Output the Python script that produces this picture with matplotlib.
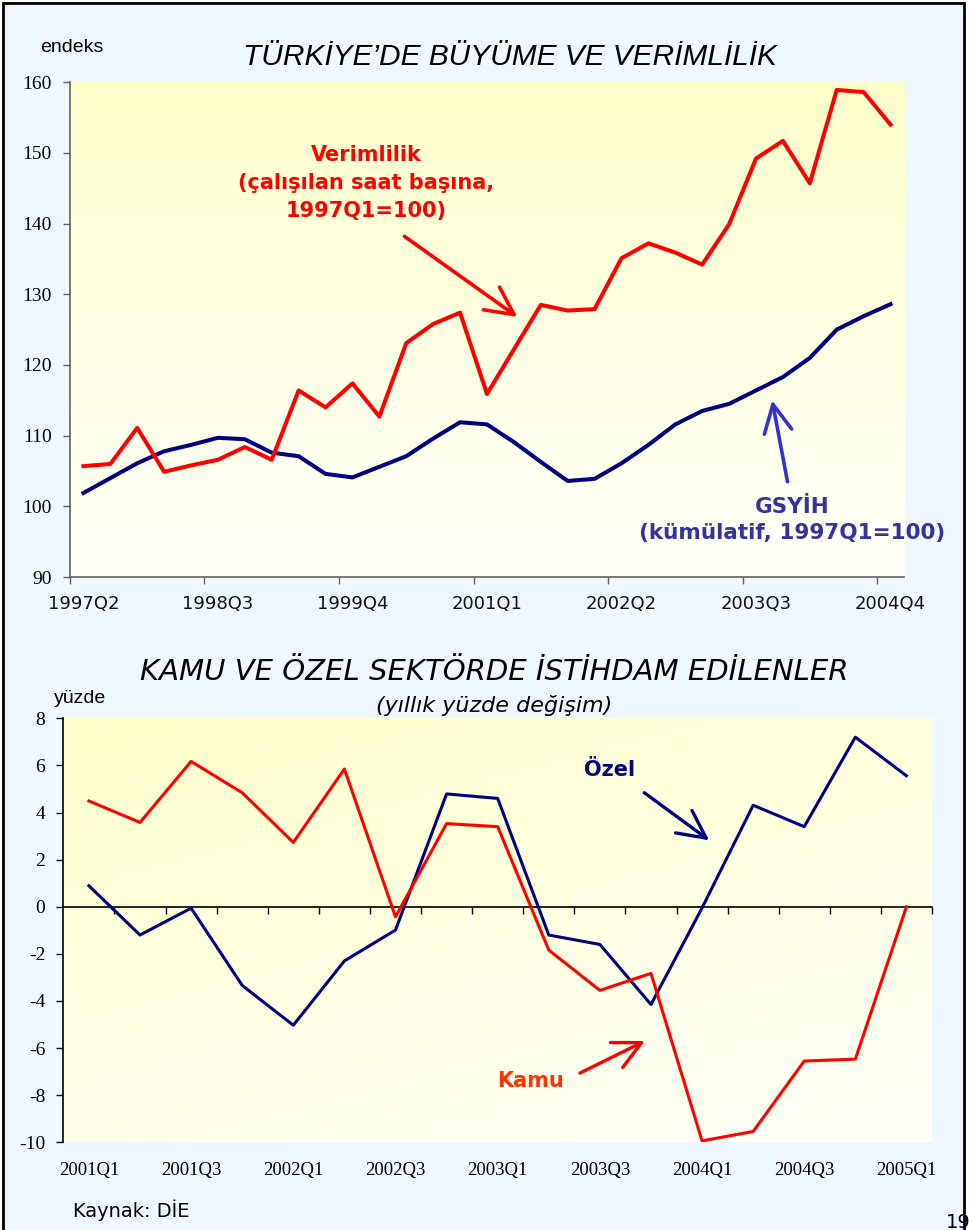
import numpy as np
import matplotlib.pyplot as plt
from matplotlib.patches import Rectangle

plt.rcParams['axes.unicode_minus'] = False

# --- ust grafik: 1997Q2 - 2004Q4 (ceyreklik, 1997Q1=100)
ceyrek_ust = [f'{y}Q{q}' for y in range(1997, 2005) for q in range(1, 5)][1:]
etiket_ust = ['1997Q2', '1998Q3', '1999Q4', '2001Q1', '2002Q2', '2003Q3', '2004Q4']
verimlilik = [105.7, 106.0, 111.1, 104.9, 105.8, 106.6, 108.4, 106.6, 116.4, 114.0,
              117.4, 112.7, 123.1, 125.8, 127.4, 115.9, 122.2, 128.5, 127.7, 127.9,
              135.1, 137.2, 135.9, 134.2, 139.9, 149.2, 151.7, 145.7, 158.9, 158.6, 154.0]
gsyih = [101.9, 104.0, 106.1, 107.8, 108.7, 109.7, 109.5, 107.6, 107.1, 104.6,
         104.1, 105.6, 107.1, 109.6, 111.9, 111.6, 109.1, 106.3, 103.6, 103.9,
         106.1, 108.7, 111.6, 113.5, 114.5, 116.4, 118.3, 121.0, 125.0, 126.9, 128.6]

# --- alt grafik: 2001Q1 - 2005Q1 (yillik yuzde degisim)
ceyrek_alt = [f'{y}Q{q}' for y in range(2001, 2006) for q in range(1, 5)][:17]
etiket_alt = ['2001Q1', '2001Q3', '2002Q1', '2002Q3', '2003Q1', '2003Q3', '2004Q1', '2004Q3', '2005Q1']
kamu = [4.49, 3.58, 6.17, 4.84, 2.73, 5.85, -0.43, 3.53, 3.40, -1.84, -3.55, -2.83,
        -9.94, -9.54, -6.55, -6.47, 0.0]
ozel = [0.89, -1.20, -0.06, -3.34, -5.03, -2.30, -0.99, 4.79, 4.60, -1.20, -1.60, -4.15,
        -0.05, 4.31, 3.40, 7.20, 5.56]

SERIF = 'Liberation Serif'
SANS = 'DejaVu Sans'
OK = '->, head_length=1.0, head_width=0.5'


def zemin(ax, diag=0.0):
    yy, xx = np.mgrid[0:1:200j, 0:1:200j]
    f = np.clip((1 - yy) * (1 - diag) + xx * diag, 0, 1)
    c1 = np.array([1.0, 1.0, 0.80])
    c2 = np.array([1.0, 1.0, 0.975])
    img = c1 + (c2 - c1) * f[..., None]
    ax.imshow(img, extent=(0, 1, 0, 1), transform=ax.transAxes, origin='lower',
              aspect='auto', zorder=0, interpolation='bilinear')


fig = plt.figure(figsize=(9.69, 12.30), dpi=100, facecolor='white')
fig.patches.append(Rectangle((3 / 969, -0.01), 961 / 969, 1.0076, transform=fig.transFigure,
                             facecolor='#F0F8FF', edgecolor='black', lw=2, zorder=-1))

# ================= UST GRAFIK =================
ax1 = fig.add_axes([0.0722, 0.5308, 0.8607, 0.4024])
ax1.set_facecolor('none')
zemin(ax1)
x1 = np.arange(len(ceyrek_ust))
ax1.plot(x1, gsyih, color='#000080', lw=2.9, zorder=3)
ax1.plot(x1, verimlilik, color='#FF0000', lw=2.9, zorder=4)
ax1.set_xlim(-0.5, len(ceyrek_ust) - 0.5)
ax1.set_ylim(90, 160)
ax1.set_yticks(range(90, 161, 10))
ax1.set_xticks([ceyrek_ust.index(e) for e in etiket_ust], labels=etiket_ust)
ax1.set_xticks(np.arange(-0.5, len(ceyrek_ust), 5), minor=True)
ax1.tick_params(axis='x', which='major', length=0, pad=13, labelsize=13, labelcolor='#111111')
ax1.tick_params(axis='x', which='minor', length=5, width=1, color='#606060')
ax1.tick_params(axis='y', length=5, width=1, color='#606060', pad=8, labelsize=14,
                labelfontfamily=SERIF)
for s in ['top', 'right']:
    ax1.spines[s].set_visible(False)
for s in ['left', 'bottom']:
    ax1.spines[s].set_color('#606060')
    ax1.spines[s].set_linewidth(1.2)

ax1.text(10.51, 145.7, 'Verimlilik\n(çalışılan saat başına,\n1997Q1=100)', color='#FF0000',
         fontsize=15, fontweight='bold', ha='center', va='center', linespacing=1.5, zorder=5)
ax1.annotate('', xy=(16.13, 126.8), xytext=(11.93, 138.2),
             arrowprops=dict(arrowstyle=OK, mutation_scale=20,
                             color='#FF0000', lw=2.6, shrinkA=0, shrinkB=0), zorder=5)
ax1.text(26.35, 98.05, 'GSYİH\n(kümülatif, 1997Q1=100)', color='#333399',
         fontsize=15.5, fontweight='bold', ha='center', va='center', linespacing=1.4, zorder=5)
ax1.annotate('', xy=(25.6, 115.0), xytext=(26.17, 103.5),
             arrowprops=dict(arrowstyle=OK, mutation_scale=20,
                             color='#3333CC', lw=2.6, shrinkA=0, shrinkB=0), zorder=5)

fig.text(0.526, 1 - 57 / 1230, 'TÜRKİYE’DE BÜYÜME VE VERİMLİLİK', fontsize=21.5, style='italic',
         family='Liberation Sans', ha='center', va='center')
fig.text(40 / 969, 1 - 47 / 1230, 'endeks', fontsize=14, family='Liberation Sans', va='center')

# ================= ALT GRAFIK =================
ax2 = fig.add_axes([0.0654, 0.0713, 0.8964, 0.3447])
ax2.set_facecolor('none')
zemin(ax2, diag=0.35)
x2 = np.arange(len(ceyrek_alt))
ax2.plot(x2, ozel, color='#000080', lw=2.2, zorder=3)
ax2.plot(x2, kamu, color='#FF0000', lw=2.2, zorder=4)
ax2.set_xlim(-0.5, len(ceyrek_alt) - 0.5)
ax2.set_ylim(-10, 8)
ax2.set_yticks(range(-10, 9, 2))
ax2.spines['bottom'].set_position(('data', 0))
ax2.spines['bottom'].set_linewidth(1.2)
ax2.spines['left'].set_linewidth(1.2)
for s in ['top', 'right']:
    ax2.spines[s].set_visible(False)
ax2.set_xticks(np.arange(0.5, len(ceyrek_alt), 1))
ax2.tick_params(axis='x', labelbottom=False, length=5, width=1, direction='out')
ax2.tick_params(axis='y', length=5, width=1, pad=8, labelsize=14, labelfontfamily=SERIF)
sec = ax2.secondary_xaxis(0)
sec.set_xticks([ceyrek_alt.index(e) for e in etiket_alt], labels=etiket_alt)
sec.tick_params(length=0, pad=14, labelsize=13.5, labelfontfamily=SERIF)
sec.spines['bottom'].set_visible(False)

ax2.text(10.19, 5.80, 'Özel', color='#000080', fontsize=15, fontweight='bold',
         ha='center', va='center', zorder=5)
ax2.annotate('', xy=(12.14, 2.82), xytext=(10.87, 4.84),
             arrowprops=dict(arrowstyle=OK, mutation_scale=20,
                             color='#000080', lw=2.4, shrinkA=0, shrinkB=0), zorder=5)
ax2.text(8.65, -7.38, 'Kamu', color='#FF3300', fontsize=15, fontweight='bold',
         ha='center', va='center', zorder=5)
ax2.annotate('', xy=(10.88, -5.70), xytext=(9.61, -7.06),
             arrowprops=dict(arrowstyle=OK, mutation_scale=20,
                             color='#FF0000', lw=2.4, shrinkA=0, shrinkB=0), zorder=5)

fig.text(0.51, 1 - 672 / 1230, 'KAMU VE ÖZEL SEKTÖRDE İSTİHDAM EDİLENLER', fontsize=21,
         style='italic', family=SANS, ha='center', va='center')
fig.text(0.51, 1 - 706 / 1230, '(yıllık yüzde değişim)', fontsize=16, style='italic',
         family=SANS, ha='center', va='center')
fig.text(54 / 969, 1 - 699 / 1230, 'yüzde', fontsize=14, family='Liberation Sans', va='center')
fig.text(73 / 969, 1 - 1210 / 1230, 'Kaynak: DİE', fontsize=14, family=SANS, va='center')
fig.text(946 / 969, 1 - 1222 / 1230, '19', fontsize=14, family=SANS, va='center')

fig.savefig('out.png', dpi=100, facecolor=fig.get_facecolor())
